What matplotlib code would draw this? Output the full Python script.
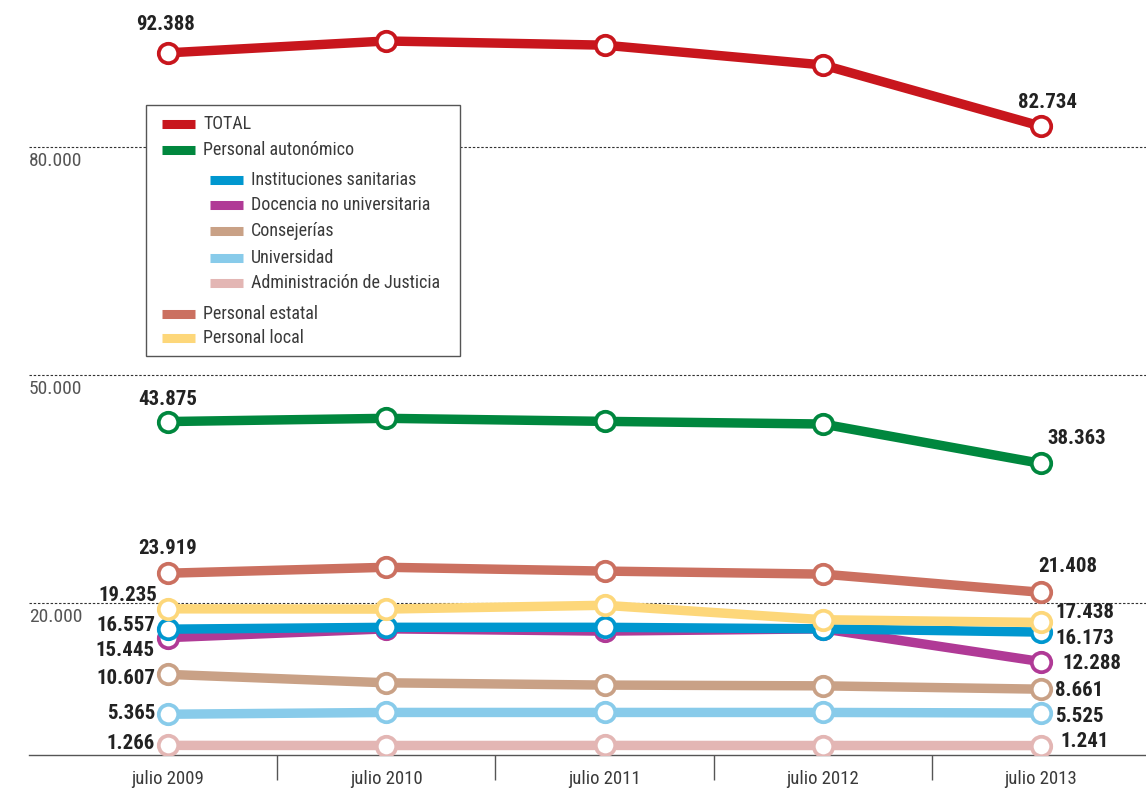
import matplotlib
matplotlib.use("Agg")
import matplotlib.pyplot as plt
from matplotlib.lines import Line2D
from matplotlib.patches import Rectangle
import matplotlib.transforms as mtransforms

plt.rcParams['font.family'] = ['Roboto Condensed', 'DejaVu Sans']
plt.rcParams['font.stretch'] = 'condensed'

# ---------------- data ----------------
years = ["julio 2009", "julio 2010", "julio 2011", "julio 2012", "julio 2013"]

total        = [92388, 93950, 93400, 90800, 82734]
autonomico   = [43875, 44300, 43900, 43550, 38363]
estatal      = [23919, 24700, 24200, 23800, 21408]
local        = [19235, 19200, 19700, 17800, 17438]
sanitarias   = [16557, 16800, 16800, 16600, 16173]
docencia     = [15445, 16600, 16300, 16600, 12288]
consejerias  = [10607, 9500, 9200, 9100, 8661]
universidad  = [5365, 5600, 5600, 5600, 5525]
justicia     = [1266, 1250, 1260, 1250, 1241]

y_gridlines = [20000, 50000, 80000]
y_gridlabels = ["20.000", "50.000", "80.000"]

# ---------------- style ----------------
colors = {
    "TOTAL": "#C8161D",
    "Personal autonómico": "#00873E",
    "Instituciones sanitarias": "#0097CF",
    "Docencia no universitaria": "#B03A96",
    "Consejerías": "#C9A186",
    "Universidad": "#88CBEA",
    "Administración de Justicia": "#E3B6B4",
    "Personal estatal": "#CB7060",
    "Personal local": "#FDD77A",
}
values = {
    "TOTAL": total,
    "Personal autonómico": autonomico,
    "Instituciones sanitarias": sanitarias,
    "Docencia no universitaria": docencia,
    "Consejerías": consejerias,
    "Universidad": universidad,
    "Administración de Justicia": justicia,
    "Personal estatal": estatal,
    "Personal local": local,
}
draw_order = ["Administración de Justicia", "Universidad", "Consejerías",
              "Docencia no universitaria", "Instituciones sanitarias",
              "Personal local", "Personal estatal", "Personal autonómico", "TOTAL"]

label_offsets = {
    "TOTAL": ((-3, 28, "center"), (6, 24, "center")),
    "Personal autonómico": ((0, 22, "center"), (36, 25, "center")),
    "Personal estatal": ((0, 25, "center"), (27, 26, "center")),
    "Personal local": ((-11, 13, "right"), (14, 10, "left")),
    "Instituciones sanitarias": ((-13, 4, "right"), (14, -6, "left")),
    "Docencia no universitaria": ((-13, -13, "right"), (21, -2, "left")),
    "Consejerías": ((-13, -4, "right"), (14, -1, "left")),
    "Universidad": ((-13, 1, "right"), (14, -3, "left")),
    "Administración de Justicia": ((-13, 2, "right"), (19, 4, "left")),
}

def fmt(v):
    return f"{v:,}".replace(",", ".")

W, H = 1146, 791
fig = plt.figure(figsize=(W / 100, H / 100), dpi=100)
ax = fig.add_axes([29 / W, (H - 755) / H, (W - 29) / W, 755 / H])
x = list(range(len(years)))
ax.set_xlim(-0.637, 4.481)
ax.set_ylim(0, 755 / 7.6 * 1000)

for sp in ["top", "right", "left"]:
    ax.spines[sp].set_visible(False)
ax.spines["bottom"].set_color("#555555")
ax.spines["bottom"].set_linewidth(1.0)

ax.set_yticks([])
ax.set_xticks(x)
ax.set_xticklabels(years, fontsize=13.5, color="#3a3a3a")
ax.tick_params(axis="x", which="major", length=0, pad=11)
ax.set_xticks([i + 0.5 for i in x[:-1]], minor=True)
ax.tick_params(axis="x", which="minor", length=18, width=1, color="#555555", direction="out")

trans = mtransforms.blended_transform_factory(ax.transAxes, ax.transData)
for yv, lab in zip(y_gridlines, y_gridlabels):
    ax.axhline(yv, color="#333333", lw=0.8, ls=(0, (2.2, 1.6)), zorder=0)
    ax.annotate(lab, xy=(0, yv), xycoords=trans, xytext=(0, -5),
                textcoords="offset pixels", ha="left", va="top",
                fontsize=14, color="#555555")

for z, name in enumerate(draw_order):
    vals = values[name]
    ax.plot(x, vals, color=colors[name], lw=6.8, solid_capstyle="butt",
            marker="o", markersize=14, markerfacecolor="white",
            markeredgecolor=colors[name], markeredgewidth=2.7, zorder=3 + z)
    (d0, e0, h0), (d1, e1, h1) = label_offsets[name]
    ax.annotate(fmt(vals[0]), xy=(x[0], vals[0]), xytext=(d0, e0),
                textcoords="offset pixels", ha=h0, va="center",
                fontsize=15, fontweight="bold", color="#222222", zorder=20)
    ax.annotate(fmt(vals[-1]), xy=(x[-1], vals[-1]), xytext=(d1, e1),
                textcoords="offset pixels", ha=h1, va="center",
                fontsize=15, fontweight="bold", color="#222222", zorder=20)

def fx(px):
    return px / W

def fy(py):
    return 1 - py / H

box = Rectangle((fx(146), fy(356)), fx(460) - fx(146), fy(105) - fy(356),
                transform=fig.transFigure, facecolor="white",
                edgecolor="#555555", lw=1.0, zorder=30)
fig.add_artist(box)

legend_rows = [
    ("TOTAL", 124, False),
    ("Personal autonómico", 150, False),
    ("Instituciones sanitarias", 180, True),
    ("Docencia no universitaria", 205, True),
    ("Consejerías", 231, True),
    ("Universidad", 258, True),
    ("Administración de Justicia", 283, True),
    ("Personal estatal", 314, False),
    ("Personal local", 338, False),
]
for name, py, indent in legend_rows:
    x0 = 210 if indent else 162
    fig.add_artist(Line2D([fx(x0), fx(x0 + 33)], [fy(py), fy(py)],
                          transform=fig.transFigure, color=colors[name],
                          lw=6.5, solid_capstyle="butt", zorder=31))
    fig.text(fx(x0 + 41), fy(py), name, ha="left", va="center",
             fontsize=13, color="#3a3a3a", zorder=31)

fig.savefig("out.png", dpi=100)
